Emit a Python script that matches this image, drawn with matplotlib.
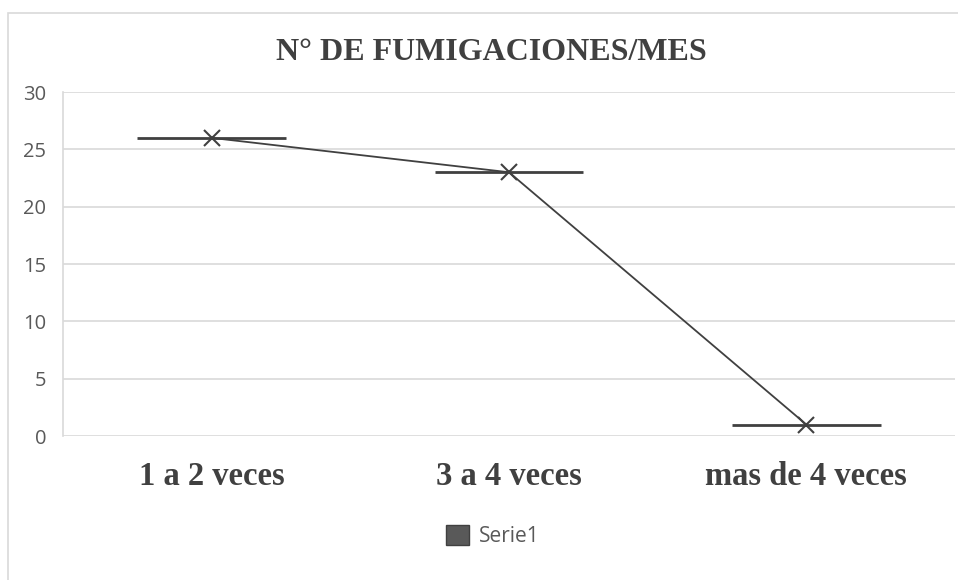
import matplotlib
matplotlib.use("Agg")
import matplotlib.pyplot as plt
from matplotlib.patches import Rectangle, Patch

categories = ["1 a 2 veces", "3 a 4 veces", "mas de 4 veces"]
values = [26, 23, 1]
yticks = [0, 5, 10, 15, 20, 25, 30]
series_name = "Serie1"
title = "N° DE FUMIGACIONES/MES"

W, H = 958, 580
fig = plt.figure(figsize=(W / 100, H / 100), dpi=100)
fig.patch.set_facecolor("white")

# outer chart frame
fig.patches.append(Rectangle((8 / W, -0.05), 1.2, 1 - 13 / H + 0.05,
                             transform=fig.transFigure, fill=False,
                             edgecolor="#d9d9d9", linewidth=1.2, zorder=0))

ax = fig.add_axes([63 / W, 1 - 436 / H, (955 - 63) / W, (436 - 92) / H])
x = list(range(len(categories)))
line_color = "#404040"

ax.plot(x, values, color=line_color, linewidth=1.3, marker="x",
        markersize=12, markeredgewidth=1.5, zorder=3)
ax.hlines(values, [i - 0.25 for i in x], [i + 0.25 for i in x],
          colors=line_color, linewidth=2, zorder=3)

ax.set_xlim(-0.5, len(categories) - 0.5)
ax.set_ylim(0, 30)
ax.set_yticks(yticks)
ax.set_yticklabels([str(v) for v in yticks], fontsize=14.5,
                   color="#595959", family="Open Sans")
ax.set_xticks(x)
ax.set_xticklabels(categories, fontsize=23.5, fontweight="bold",
                   family="Liberation Serif", color="#404040")
ax.tick_params(axis="both", length=0)
ax.tick_params(axis="x", pad=18)
ax.tick_params(axis="y", pad=12)

ax.grid(axis="y", color="#d9d9d9", linewidth=1.2)
ax.set_axisbelow(True)
for s in ["top", "right", "bottom"]:
    ax.spines[s].set_visible(False)
ax.spines["left"].set_color("#d9d9d9")
ax.spines["left"].set_linewidth(1.2)

fig.text(491 / W, 1 - 52 / H, title, ha="center", va="center",
         fontsize=23, fontweight="bold", family="Liberation Serif",
         color="#404040")

handle = Patch(facecolor="#595959", edgecolor="#404040", label=series_name)
leg = fig.legend(handles=[handle], loc="center", bbox_to_anchor=(493 / W, 1 - 536 / H),
                 frameon=False, handlelength=1.1, handleheight=1.1,
                 handletextpad=0.5,
                 prop={"family": "Open Sans", "size": 15})
for t in leg.get_texts():
    t.set_color("#595959")

fig.savefig("out.png", dpi=100)
